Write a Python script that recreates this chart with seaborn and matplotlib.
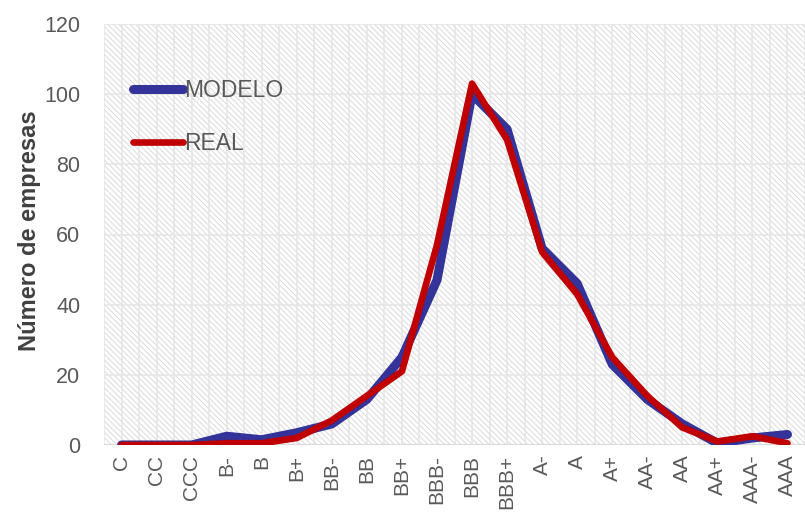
import numpy as np
import pandas as pd
import matplotlib
matplotlib.use("Agg")
import matplotlib.pyplot as plt
from matplotlib.patches import Rectangle
import seaborn as sns

# rating categories and counts
ratings = ["C", "CC", "CCC", "B-", "B", "B+", "BB-", "BB", "BB+", "BBB-",
           "BBB", "BBB+", "A-", "A", "A+", "AA-", "AA", "AA+", "AAA-", "AAA"]
modelo = [0, 0, 0, 2.5, 1.5, 3.5, 6, 13, 25, 47, 100, 90, 56, 46, 23, 13, 6, 0.5, 2, 3]
real = [0, 0, 0, 0.5, 0.5, 2, 7, 14, 21, 57, 103, 87, 55, 43, 25, 14, 5, 1, 2.5, 0.5]

df = pd.concat([
    pd.DataFrame({"rating": ratings, "n": modelo, "serie": "MODELO"}),
    pd.DataFrame({"rating": ratings, "n": real, "serie": "REAL"}),
])
df["pos"] = df["rating"].map({r: i for i, r in enumerate(ratings)})

sns.set_style("white")
plt.rcParams["font.family"] = ["Liberation Sans", "DejaVu Sans"]
plt.rcParams["hatch.linewidth"] = 0.7

fig = plt.figure(figsize=(8.05, 5.21), dpi=100)
ax = fig.add_axes([104 / 805, 76 / 521, 701 / 805, 421 / 521])

# hatched background
ax.add_patch(Rectangle((0, 0), 1, 1, transform=ax.transAxes, facecolor="white",
                       edgecolor="#dadada", hatch="\\" * 6, linewidth=0, zorder=0))

sns.lineplot(data=df, x="pos", y="n", hue="serie", ax=ax,
             palette={"MODELO": "#333399", "REAL": "#c00000"}, legend=False,
             zorder=3)
lines = ax.get_lines()
lines[0].set_linewidth(6.5)
lines[1].set_linewidth(4.8)
for ln in lines:
    ln.set_solid_capstyle("round")
    ln.set_solid_joinstyle("round")

ax.set_xlim(-0.5, 19.35)
ax.set_ylim(0, 120)
ax.set_yticks(np.arange(0, 121, 20))
ax.set_xticks(range(len(ratings)))
ax.set_xticklabels(ratings, rotation=90)
ax.set_xticks(np.arange(-0.5, len(ratings), 1), minor=True)
ax.tick_params(axis="x", which="both", length=0, labelsize=15, labelcolor="#595959", pad=7)
ax.tick_params(axis="y", length=0, labelsize=15.5, labelcolor="#595959", pad=17)
ax.grid(True, which="both", axis="x", color="#e6e6e6", linewidth=1.2, zorder=1)
ax.grid(True, which="major", axis="y", color="#e6e6e6", linewidth=1.2, zorder=1)
ax.set_axisbelow(True)
for s in ax.spines.values():
    s.set_visible(False)
ax.axhline(0, color="#d9d9d9", linewidth=1.5, zorder=2)

ax.set_xlabel("")
ax.set_ylabel("Número de empresas", fontsize=17, fontweight="bold", color="#404040", labelpad=3)
ax.yaxis.set_label_coords(-0.09, 0.51)

leg = ax.legend(lines, ["MODELO", "REAL"], loc="upper left", bbox_to_anchor=(29 / 701, 0.87),
                frameon=False, handlelength=2.2, handletextpad=0.05, labelspacing=1.3,
                borderpad=0, borderaxespad=0, fontsize=16.5)
for t in leg.get_texts():
    t.set_color("#595959")

fig.savefig("out.png", dpi=100)
